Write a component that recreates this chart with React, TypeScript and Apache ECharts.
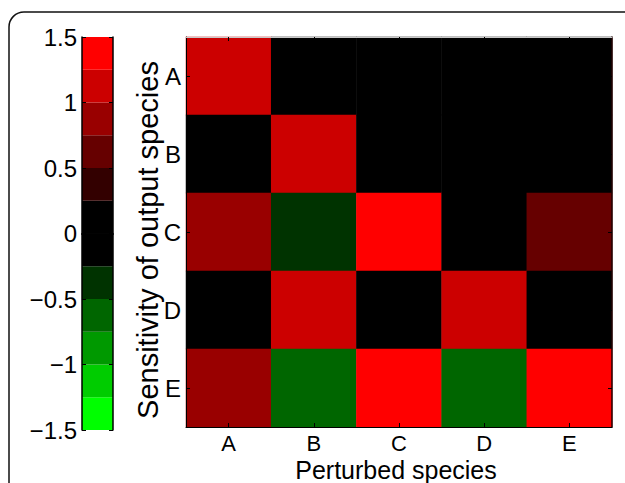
import React, { useEffect, useRef } from "react";
import * as echarts from "echarts";

const rowLabels = ["A", "B", "C", "D", "E"]; // output species (top to bottom)
const colLabels = ["A", "B", "C", "D", "E"]; // perturbed species

// sensitivity[row][col]
const rowA = [1.1, 0, 0, 0, 0];
const rowB = [0, 1.1, 0, 0, 0];
const rowC = [0.9, -0.4, 1.4, 0, 0.6];
const rowD = [0, 1.1, 0, 1.1, 0];
const rowE = [0.9, -0.6, 1.4, -0.6, 1.4];
const sensitivity = [rowA, rowB, rowC, rowD, rowE];

const bandEdges = [-1.5, -1.25, -1, -0.75, -0.5, -0.25, 0, 0.25, 0.5, 0.75, 1, 1.25, 1.5];
const bandColors = [
  "#00FF00", "#00CC00", "#009900", "#006600", "#003300", "#000000",
  "#000000", "#330000", "#660000", "#990000", "#CC0000", "#FF0000",
];

const xName = "Perturbed species";
const yName = "Sensitivity of output species";

const FONT = "'Liberation Sans', Arial, Helvetica, sans-serif";

export default function App() {
  const ref = useRef<HTMLDivElement>(null);
  useEffect(() => {
    if (!ref.current) return;
    const chart = echarts.init(ref.current, null, { renderer: "svg" });
    const heatData = sensitivity.flatMap((row, r) => row.map((v, c) => [c, r, v]));
    const cbData = bandColors.map((_, i) => [0, bandEdges[i], bandEdges[i + 1], i]);
    const tickStyle = { color: "#000", width: 1 };
    const catAxisCommon = {
      type: "category" as const,
      axisTick: { show: true, inside: true, length: 4, alignWithLabel: true, lineStyle: tickStyle },
      axisLine: { show: true, lineStyle: { color: "#000", width: 1 } },
      splitLine: { show: false },
      z: 5,
    };
    const option: any = {
      animation: false,
      backgroundColor: "#fff",
      textStyle: { fontFamily: FONT },
      grid: [
        { left: 186, top: 37, width: 426, height: 390, containLabel: false },
        { left: 82, top: 37, width: 31, height: 393, containLabel: false },
      ],
      xAxis: [
        {
          ...catAxisCommon,
          gridIndex: 0,
          position: "bottom",
          data: colLabels,
          axisLabel: { color: "#000", fontSize: 22, lineHeight: 20, margin: 6, fontFamily: FONT },
        },
        {
          ...catAxisCommon,
          gridIndex: 0,
          position: "top",
          data: colLabels,
          axisLine: { show: true, lineStyle: { color: "#c8c8c8", width: 1 } },
          axisLabel: { show: false },
        },
        {
          type: "category",
          gridIndex: 1,
          position: "bottom",
          data: [""],
          axisTick: { show: false },
          axisLabel: { show: false },
          axisLine: { show: true, lineStyle: { color: "#000", width: 1.5 } },
          z: 5,
        },
        {
          type: "category",
          gridIndex: 1,
          position: "top",
          data: [""],
          axisTick: { show: false },
          axisLabel: { show: false },
          axisLine: { show: true, lineStyle: { color: "#000", width: 1.5 } },
          z: 5,
        },
      ],
      yAxis: [
        {
          ...catAxisCommon,
          gridIndex: 0,
          position: "left",
          inverse: true,
          data: rowLabels,
          axisLabel: { color: "#000", fontSize: 24, lineHeight: 20, margin: 5, fontFamily: FONT },
        },
        {
          ...catAxisCommon,
          gridIndex: 0,
          position: "right",
          inverse: true,
          data: rowLabels,
          axisLine: { show: true, lineStyle: { color: "#200", width: 1.5 } },
          axisLabel: { show: false },
        },
        {
          type: "value",
          gridIndex: 1,
          position: "left",
          min: -1.5,
          max: 1.5,
          interval: 0.5,
          axisLine: { show: true, lineStyle: { color: "#000", width: 1.5 } },
          axisTick: { show: true, inside: true, length: 4, lineStyle: tickStyle },
          splitLine: { show: false },
          axisLabel: {
            color: "#000",
            fontSize: 24,
            lineHeight: 20,
            margin: 5,
            fontFamily: FONT,
            formatter: (v: number) => (v < 0 ? "\u2212" + Math.abs(v) : String(v)),
          },
          z: 5,
        },
        {
          type: "value",
          gridIndex: 1,
          position: "right",
          min: -1.5,
          max: 1.5,
          interval: 0.5,
          axisLine: { show: true, lineStyle: { color: "#000", width: 1.5 } },
          axisTick: { show: true, inside: true, length: 4, lineStyle: tickStyle },
          splitLine: { show: false },
          axisLabel: { show: false },
          z: 5,
        },
      ],
      visualMap: {
        type: "piecewise",
        show: false,
        seriesIndex: 0,
        dimension: 2,
        pieces: bandColors.map((color, i) => ({ gte: bandEdges[i], lt: bandEdges[i + 1], color })),
      },
      series: [
        {
          type: "heatmap",
          xAxisIndex: 0,
          yAxisIndex: 0,
          data: heatData,
          itemStyle: { borderWidth: 0 },
          emphasis: { disabled: true },
          z: 2,
        },
        {
          type: "custom",
          xAxisIndex: 2,
          yAxisIndex: 2,
          data: cbData,
          encode: { x: 0, y: [1, 2] },
          z: 2,
          renderItem: (params: any, api: any) => {
            const lo = api.value(1);
            const hi = api.value(2);
            const idx = api.value(3);
            const pTop = api.coord([0, hi]);
            const pBot = api.coord([0, lo]);
            const w = api.size([1, 0])[0];
            return {
              type: "rect",
              shape: { x: pTop[0] - w / 2, y: pTop[1], width: w, height: pBot[1] - pTop[1] },
              style: { fill: bandColors[idx] },
            };
          },
        },
      ],
      graphic: [
        {
          type: "rect",
          shape: { x: 9, y: 12, width: 700, height: 600, r: 15 },
          style: { fill: "none", stroke: "#111", lineWidth: 1.5 },
          silent: true,
          z: 0,
        },
        {
          type: "text",
          x: 396,
          y: 470,
          style: {
            text: xName,
            fill: "#000",
            fontSize: 25,
            lineHeight: 22,
            fontFamily: FONT,
            textAlign: "center",
            textVerticalAlign: "middle",
          },
        },
        {
          type: "text",
          x: 148,
          y: 240,
          rotation: Math.PI / 2,
          style: {
            text: yName,
            fill: "#000",
            fontSize: 29,
            lineHeight: 24,
            fontFamily: FONT,
            textAlign: "center",
            textVerticalAlign: "middle",
          },
        },
      ],
    };
    chart.setOption(option);
    return () => chart.dispose();
  }, []);
  return (
    <div
      ref={ref}
      style={{ position: "absolute", left: 0, top: 0, width: 625, height: 483, background: "#fff" }}
    />
  );
}
